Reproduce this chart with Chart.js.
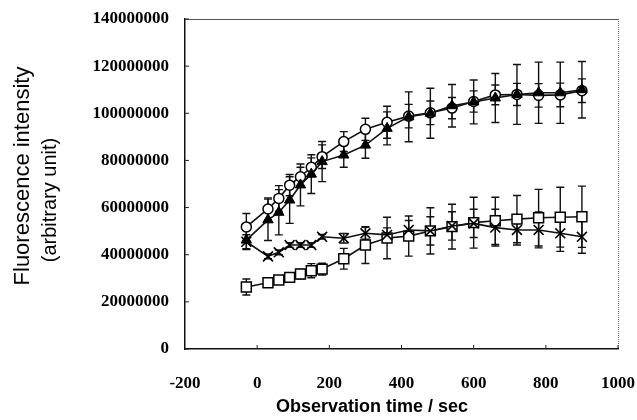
<!DOCTYPE html>
<html>
<head>
<meta charset="utf-8">
<script src="https://cdn.jsdelivr.net/npm/chart.js@4.4.1/dist/chart.umd.min.js"></script>
<style>
  body { margin: 0; background: #fff; }
  #wrap { width: 637px; height: 420px; }
</style>
</head>
<body>
<div id="wrap"><canvas id="myChart" width="637" height="420"></canvas></div>
<script>
// observation times (sec)
const times = [-30, 30, 60, 90, 120, 150, 180, 240, 300, 360, 420, 480, 540, 600, 660, 720, 780, 840, 900];

// open circles
const circleVals = [51800000, 59400000, 63900000, 69500000, 73100000, 77100000, 81600000, 88000000, 93200000, 96200000, 98800000, 100200000, 102200000, 105000000, 107800000, 108000000, 107600000, 107800000, 109600000];
const circleErr = [5700000, 4700000, 5400000, 4500000, 4000000, 4000000, 5000000, 4200000, 4700000, 6800000, 5000000, 5000000, 4500000, 4500000, 4200000, 4700000, 5000000, 5000000, 5000000];

// filled triangles
const triangleVals = [46200000, 54800000, 58000000, 63200000, 69600000, 74200000, 79500000, 82300000, 86500000, 93600000, 98500000, 100000000, 103200000, 104800000, 106500000, 108000000, 108700000, 108700000, 110000000];
const triangleErr = [4000000, 8800000, 9600000, 9900000, 8900000, 8200000, 8500000, 5200000, 5600000, 7000000, 10600000, 10600000, 9000000, 9300000, 10400000, 12700000, 13000000, 13000000, 12000000];

// open squares
const squareVals = [26300000, 28100000, 29300000, 30400000, 31800000, 33200000, 33900000, 38300000, 44100000, 47100000, 47900000, 50100000, 51900000, 53600000, 54400000, 55100000, 55700000, 55900000, 56100000];
const squareErr = [3400000, 1000000, 1000000, 1000000, 2000000, 3000000, 2500000, 4400000, 7800000, 8800000, 8500000, 9800000, 9500000, 10800000, 10000000, 10000000, 12000000, 12700000, 13000000];

// crosses
const crossVals = [45500000, 39300000, 41000000, 44100000, 44100000, 44100000, 47600000, 47000000, 49100000, 48400000, 50500000, 50100000, 52200000, 53300000, 51500000, 50500000, 50500000, 49100000, 47600000];
const crossErr = [3000000, 1000000, 1000000, 1000000, 1000000, 1000000, 1000000, 2000000, 2500000, 3000000, 4000000, 6000000, 6000000, 6000000, 7800000, 6400000, 7600000, 7700000, 7000000];

const xTicks = [-200, 0, 200, 400, 600, 800, 1000];
const yTitle = ["Fluorescence intensity", "(arbitrary unit)"];
const xTitle = "Observation time / sec";

function points(vals) {
  return times.map((t, i) => ({ x: t, y: vals[i] }));
}

const errorBars = {
  id: "errorBars",
  beforeDatasetsDraw(chart) {
    const ctx = chart.ctx;
    const xs = chart.scales.x;
    const ys = chart.scales.y;
    ctx.save();
    ctx.strokeStyle = "#111";
    ctx.lineWidth = 1.4;
    chart.data.datasets.forEach((ds) => {
      ds.errors.forEach((e, i) => {
        const px = xs.getPixelForValue(ds.data[i].x);
        const top = ys.getPixelForValue(ds.data[i].y + e);
        const bot = ys.getPixelForValue(ds.data[i].y - e);
        ctx.beginPath();
        ctx.moveTo(px, top);
        ctx.lineTo(px, bot);
        ctx.moveTo(px - 4, top);
        ctx.lineTo(px + 4, top);
        ctx.moveTo(px - 4, bot);
        ctx.lineTo(px + 4, bot);
        ctx.stroke();
      });
    });
    ctx.restore();
  },
};

const frame = {
  id: "frame",
  afterDraw(chart) {
    const ctx = chart.ctx;
    const a = chart.chartArea;
    const xs = chart.scales.x;
    const ys = chart.scales.y;
    ctx.save();
    // top and right edges of the box
    ctx.strokeStyle = "#555";
    ctx.lineWidth = 1;
    ctx.beginPath();
    ctx.moveTo(a.left, a.top + 0.5);
    ctx.lineTo(a.right, a.top + 0.5);
    ctx.stroke();
    ctx.setLineDash([1, 1]);
    ctx.strokeStyle = "#777";
    ctx.beginPath();
    ctx.moveTo(a.right + 0.5, a.top);
    ctx.lineTo(a.right + 0.5, a.bottom);
    ctx.stroke();
    ctx.setLineDash([]);
    // small inward ticks
    ctx.strokeStyle = "#222";
    ctx.beginPath();
    xs.ticks.forEach((t) => {
      const px = xs.getPixelForValue(t.value);
      if (px > a.left + 2) {
        ctx.moveTo(px, a.bottom);
        ctx.lineTo(px, a.bottom - 4);
      }
    });
    ys.ticks.forEach((t) => {
      const py = ys.getPixelForValue(t.value);
      ctx.moveTo(a.left, py);
      ctx.lineTo(a.left + 4, py);
    });
    ctx.stroke();
    // axis titles
    ctx.fillStyle = "#000";
    ctx.textAlign = "center";
    ctx.textBaseline = "middle";
    ctx.font = "bold 18px 'Liberation Sans', Arial, sans-serif";
    ctx.fillText(xTitle, 372, 407);
    ctx.translate(23, 176);
    ctx.rotate(-Math.PI / 2);
    ctx.font = "22px 'Liberation Sans', Arial, sans-serif";
    ctx.fillText(yTitle[0], 0, 0);
    ctx.font = "20px 'Liberation Sans', Arial, sans-serif";
    ctx.fillText(yTitle[1], -24, 27);
    ctx.restore();
  },
};

const tickFont = { family: "'Liberation Serif', 'Times New Roman', serif", size: 17, weight: "bold" };

function noPad(s) {
  s.paddingLeft = 0;
  s.paddingRight = 0;
  s.paddingTop = 0;
  s.paddingBottom = 0;
}

let ctx = document.getElementById("myChart");
let myChart = new Chart(ctx, {
  type: "line",
  data: {
    datasets: [
      {
        label: "circle",
        data: points(circleVals),
        errors: circleErr,
        order: 2,
        borderColor: "#111",
        borderWidth: 1.6,
        pointStyle: "circle",
        pointRadius: 5,
        pointBackgroundColor: "#fff",
        pointBorderColor: "#000",
        pointBorderWidth: 1.5,
      },
      {
        label: "triangle",
        data: points(triangleVals),
        errors: triangleErr,
        order: 0,
        borderColor: "#111",
        borderWidth: 1.6,
        pointStyle: "triangle",
        pointRadius: 6,
        pointBackgroundColor: "#000",
        pointBorderColor: "#000",
        pointBorderWidth: 1,
      },
      {
        label: "square",
        data: points(squareVals),
        errors: squareErr,
        order: 3,
        borderColor: "#111",
        borderWidth: 1.6,
        pointStyle: "rect",
        pointRadius: 7,
        pointBackgroundColor: "#fff",
        pointBorderColor: "#000",
        pointBorderWidth: 1.5,
      },
      {
        label: "cross",
        data: points(crossVals),
        errors: crossErr,
        order: 1,
        borderColor: "#111",
        borderWidth: 1.6,
        pointStyle: "crossRot",
        pointRadius: 7,
        pointBorderColor: "#000",
        pointBorderWidth: 1.6,
      },
    ],
  },
  options: {
    responsive: false,
    animation: false,
    devicePixelRatio: 1,
    layout: { padding: { left: 0, right: 19, top: 19, bottom: 0 } },
    plugins: {
      legend: { display: false },
      tooltip: { enabled: false },
    },
    scales: {
      x: {
        type: "linear",
        min: -200,
        max: 1000,
        afterFit: (s) => { s.height = 71; noPad(s); },
        afterBuildTicks: (s) => { s.ticks = xTicks.map((v) => ({ value: v })); },
        grid: { drawOnChartArea: false, drawTicks: false },
        border: { color: "#111", width: 1.5 },
        ticks: { color: "#000", font: tickFont, padding: 24, maxRotation: 0, callback: (v) => String(v) },
      },
      y: {
        min: 0,
        max: 140000000,
        afterFit: (s) => { s.width = 185; noPad(s); },
        grid: { drawOnChartArea: false, drawTicks: false },
        border: { color: "#111", width: 1.5 },
        ticks: { color: "#000", font: tickFont, padding: 16, stepSize: 20000000, callback: (v) => String(v) },
      },
    },
  },
  plugins: [errorBars, frame],
});
</script>
</body>
</html>
